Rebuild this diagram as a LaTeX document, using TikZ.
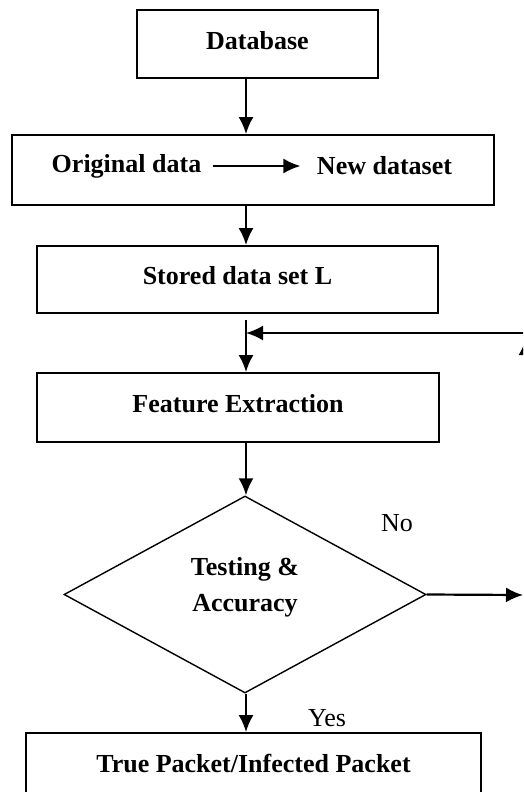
\documentclass[tikz,border=0pt]{standalone}
\usepackage{fontspec}
\setmainfont{Liberation Serif}
\usetikzlibrary{arrows.meta, calc, positioning, shapes.geometric}

\begin{document}
\begin{tikzpicture}[
    x=1pt, y=-1pt,
    >={Latex[width=15pt, length=17pt]},
    every node/.style={font=\fontsize{26}{36}\selectfont},
    box/.style={draw, line width=1.8pt, rectangle, inner sep=0pt, text depth=8pt,
        font=\bfseries\fontsize{26}{36}\selectfont},
    decision/.style={draw, line width=1.4pt, diamond, inner sep=0pt, align=center,
        text depth=21pt, font=\bfseries\fontsize{26}{36}\selectfont},
    flow/.style={->, line width=2.2pt},
]
\useasboundingbox (0,0) rectangle (523,792);
\clip (0,0) rectangle (523,792);
% main column of the flow chart
\coordinate (spine) at (246,0);
\node[box, minimum width=241pt, minimum height=68pt] (db) at (257.5,44) {Database};
\node[box, minimum width=482pt, minimum height=70pt] (orig) at (253,170) {};
\node[font=\bfseries\fontsize{26}{36}\selectfont] (olddata) at (126.5,166) {Original data};
\node[font=\bfseries\fontsize{26}{36}\selectfont] (newdata) at (384.5,166) {New dataset};
\draw[flow] ([xshift=8pt]olddata.east) -- ([xshift=-13pt]newdata.west);
\node[box, minimum width=401pt, minimum height=67pt] (stored) at (237.5,279.5) {Stored data set L};
\node[box, minimum width=402pt, minimum height=69pt] (feat) at (238,407.5) {Feature Extraction};
\node[decision, minimum width=362pt, minimum height=197pt] (test) at (245,594.5) {Testing \&\\Accuracy};
\node[box, minimum width=455pt, minimum height=68pt] (out) at (253.5,767) {True Packet/Infected Packet};
% connectors
\draw[flow] (spine |- db.south) -- (spine |- orig.north);
\draw[flow] (spine |- orig.south) -- (spine |- stored.north);
\draw[flow] ([yshift=-6pt]spine |- stored.south) -- (spine |- feat.north);
\draw[flow] (spine |- feat.south) -- (spine |- test.north);
\draw[flow] (spine |- test.south) -- (spine |- out.north);
% loop back from the right (runs off the page)
\coordinate (backin) at (530,333);
\draw[flow] (backin) -- (spine |- backin);
\coordinate (upfrom) at (526,430);
\coordinate (upto) at (526,338);
\draw[flow] (upfrom) -- (upto);
\coordinate (noend) at (523,595);
\draw[flow] (test.east) -- (noend);
\node (no) at (397,523) {No};
\node (yes) at (327,718) {Yes};
\end{tikzpicture}
\end{document}
